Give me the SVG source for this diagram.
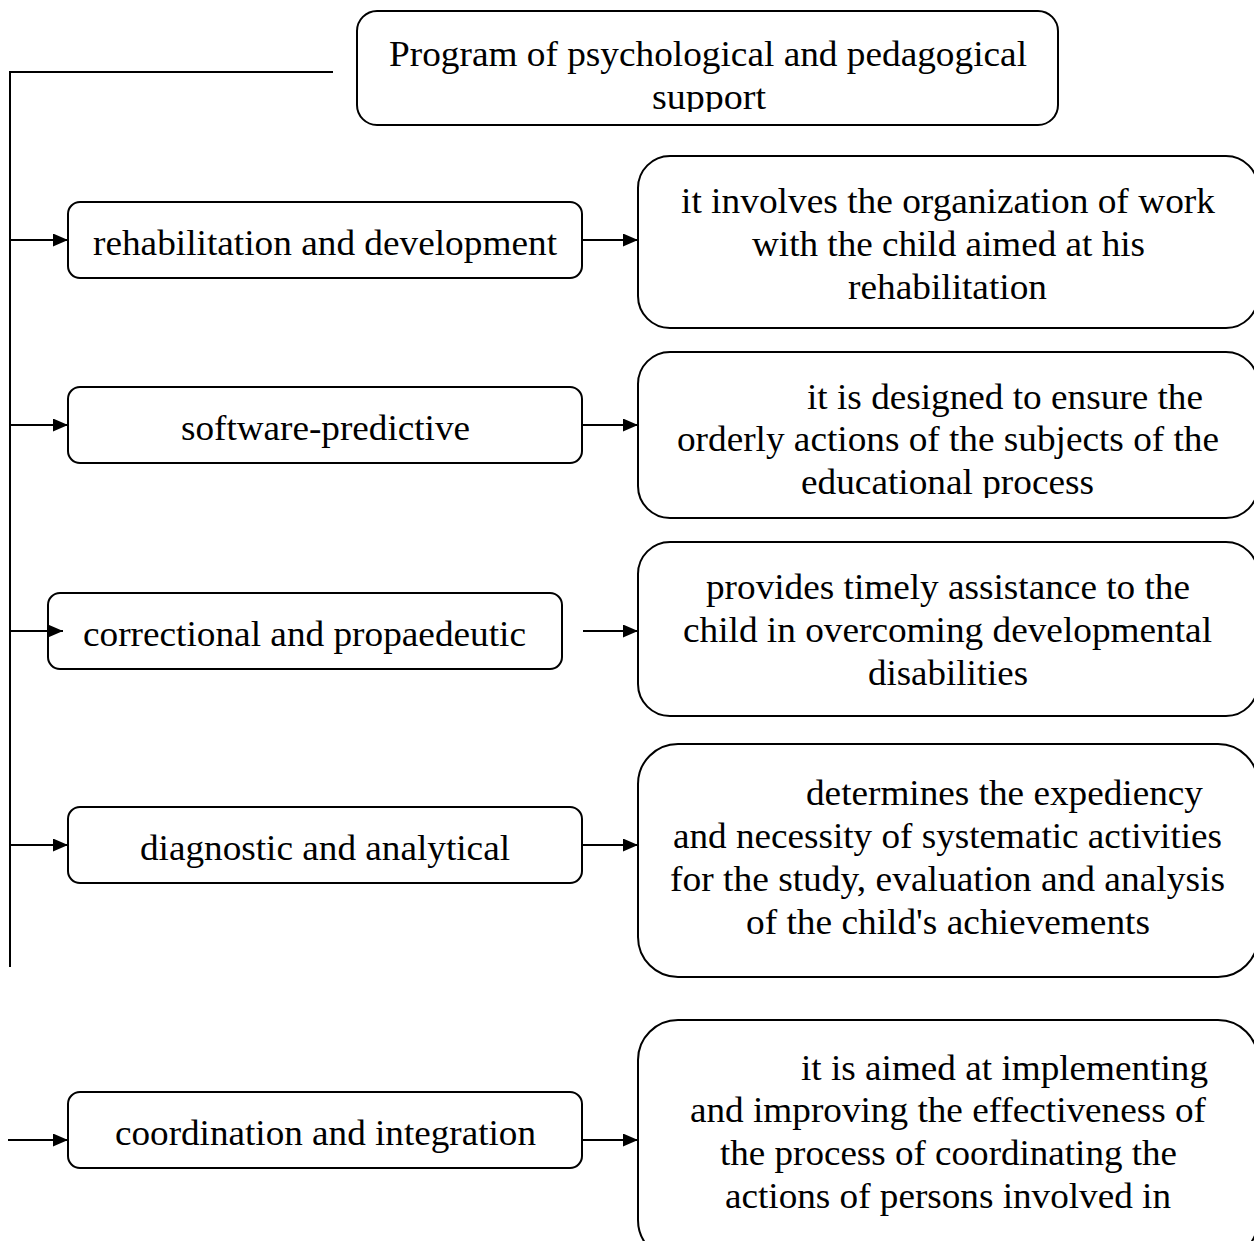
<svg xmlns="http://www.w3.org/2000/svg" width="1254" height="1241" viewBox="0 0 1254 1241">
<style>
.box{fill:#fff;stroke:#000;stroke-width:2}
.t{font-family:"Liberation Serif","Times New Roman",serif;font-size:35px;fill:#000}
.c{fill:none;stroke:#000;stroke-width:2}
</style>
<defs>
<marker id="ah" markerWidth="15" markerHeight="13" refX="15" refY="6.5" orient="auto" markerUnits="userSpaceOnUse">
<path d="M0,0 L15,6.5 L0,13 Z" fill="#000"/>
</marker>
<clipPath id="cpTop"><rect x="357" y="11" width="701" height="101"/></clipPath>
<clipPath id="cpR2"><rect x="638" y="352" width="620" height="146"/></clipPath>
</defs>
<rect width="1254" height="1241" fill="#fff"/>
<g id="top">
<rect class="box" x="357" y="11" width="701" height="114" rx="20"/>
<g clip-path="url(#cpTop)">
<text class="t" x="389" y="66" textLength="638" lengthAdjust="spacingAndGlyphs">Program of psychological and pedagogical</text>
<text class="t" x="652" y="109" textLength="114" lengthAdjust="spacingAndGlyphs">support</text>
</g>
</g>
<g id="l1"><rect class="box" x="68" y="202" width="514" height="76" rx="12"/><text class="t" x="93" y="255" textLength="464" lengthAdjust="spacingAndGlyphs">rehabilitation and development</text></g>
<g id="l2"><rect class="box" x="68" y="387" width="514" height="76" rx="12"/><text class="t" x="181" y="440" textLength="289" lengthAdjust="spacingAndGlyphs">software-predictive</text></g>
<g id="l3"><rect class="box" x="48" y="593" width="514" height="76" rx="12"/><text class="t" x="83" y="646" textLength="443" lengthAdjust="spacingAndGlyphs">correctional and propaedeutic</text></g>
<g id="l4"><rect class="box" x="68" y="807" width="514" height="76" rx="12"/><text class="t" x="140" y="860" textLength="370" lengthAdjust="spacingAndGlyphs">diagnostic and analytical</text></g>
<g id="l5"><rect class="box" x="68" y="1092" width="514" height="76" rx="12"/><text class="t" x="115" y="1145" textLength="421" lengthAdjust="spacingAndGlyphs">coordination and integration</text></g>
<g id="r1"><rect class="box" x="638" y="156" width="620" height="172" rx="32"/>
<text class="t" x="681" y="213" textLength="534" lengthAdjust="spacingAndGlyphs">it involves the organization of work</text>
<text class="t" x="752" y="256" textLength="393" lengthAdjust="spacingAndGlyphs">with the child aimed at his</text>
<text class="t" x="848" y="299" textLength="199" lengthAdjust="spacingAndGlyphs">rehabilitation</text></g>
<g id="r2"><rect class="box" x="638" y="352" width="620" height="166" rx="32"/>
<g clip-path="url(#cpR2)">
<text class="t" x="807" y="409" textLength="396" lengthAdjust="spacingAndGlyphs">it is designed to ensure the</text>
<text class="t" x="677" y="451" textLength="542" lengthAdjust="spacingAndGlyphs">orderly actions of the subjects of the</text>
<text class="t" x="801" y="494" textLength="293" lengthAdjust="spacingAndGlyphs">educational process</text></g></g>
<g id="r3"><rect class="box" x="638" y="542" width="620" height="174" rx="32"/>
<text class="t" x="706" y="599" textLength="484" lengthAdjust="spacingAndGlyphs">provides timely assistance to the</text>
<text class="t" x="683" y="642" textLength="529" lengthAdjust="spacingAndGlyphs">child in overcoming developmental</text>
<text class="t" x="868" y="685" textLength="160" lengthAdjust="spacingAndGlyphs">disabilities</text></g>
<g id="r4"><rect class="box" x="638" y="744" width="620" height="233" rx="40"/>
<text class="t" x="806" y="805" textLength="397" lengthAdjust="spacingAndGlyphs">determines the expediency</text>
<text class="t" x="673" y="848" textLength="549" lengthAdjust="spacingAndGlyphs">and necessity of systematic activities</text>
<text class="t" x="670" y="891" textLength="555" lengthAdjust="spacingAndGlyphs">for the study, evaluation and analysis</text>
<text class="t" x="746" y="934" textLength="404" lengthAdjust="spacingAndGlyphs">of the child's achievements</text></g>
<g id="r5"><rect class="box" x="638" y="1020" width="620" height="240" rx="40"/>
<text class="t" x="801" y="1080" textLength="407" lengthAdjust="spacingAndGlyphs">it is aimed at implementing</text>
<text class="t" x="690" y="1122" textLength="516" lengthAdjust="spacingAndGlyphs">and improving the effectiveness of</text>
<text class="t" x="720" y="1165" textLength="457" lengthAdjust="spacingAndGlyphs">the process of coordinating the</text>
<text class="t" x="725" y="1208" textLength="446" lengthAdjust="spacingAndGlyphs">actions of persons involved in</text></g>
<g id="connectors">
<path class="c" d="M333,72 H10 V967"/>
<line class="c" x1="10" y1="240" x2="68" y2="240" marker-end="url(#ah)"/>
<line class="c" x1="582" y1="240" x2="638" y2="240" marker-end="url(#ah)"/>
<line class="c" x1="10" y1="425" x2="68" y2="425" marker-end="url(#ah)"/>
<line class="c" x1="582" y1="425" x2="638" y2="425" marker-end="url(#ah)"/>
<line class="c" x1="10" y1="631" x2="63" y2="631" marker-end="url(#ah)"/>
<line class="c" x1="583" y1="631" x2="638" y2="631" marker-end="url(#ah)"/>
<line class="c" x1="10" y1="845" x2="68" y2="845" marker-end="url(#ah)"/>
<line class="c" x1="582" y1="845" x2="638" y2="845" marker-end="url(#ah)"/>
<line class="c" x1="8" y1="1140" x2="68" y2="1140" marker-end="url(#ah)"/>
<line class="c" x1="582" y1="1140" x2="638" y2="1140" marker-end="url(#ah)"/>
</g>
</svg>
